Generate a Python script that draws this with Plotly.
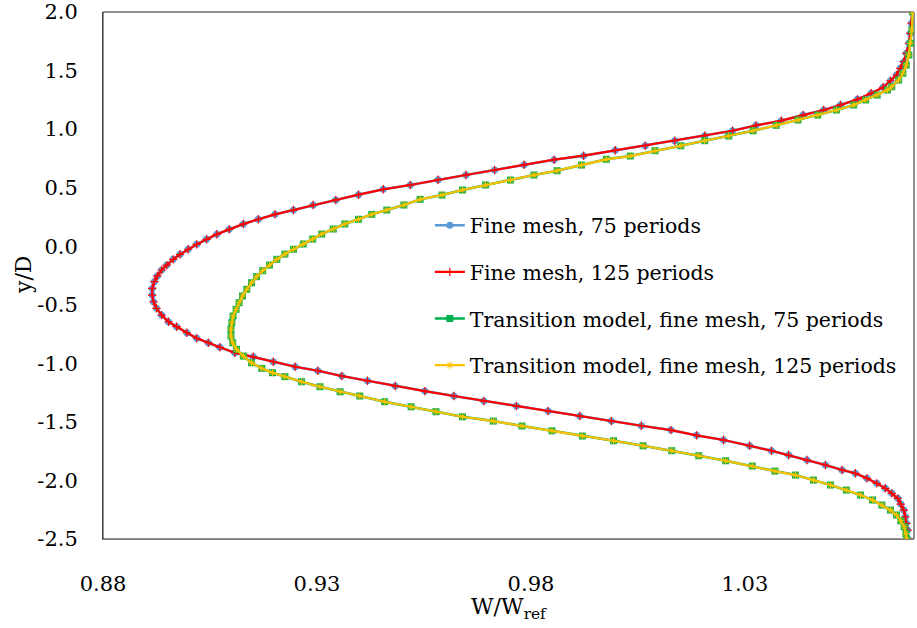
import plotly.graph_objects as go

# ---- data (y/D vs W/Wref) ----
y_fine = [-2.5, -2.424, -2.366, -2.310, -2.253, -2.202, -2.153, -2.110, -2.067, -2.025,
          -1.982, -1.939, -1.911, -1.868, -1.826, -1.783, -1.746, -1.704, -1.655, -1.615,
          -1.570, -1.533, -1.493, -1.450, -1.407, -1.365, -1.322, -1.279, -1.237, -1.194,
          -1.149, -1.108, -1.063, -1.029, -0.986, -0.944, -0.909, -0.863, -0.824, -0.786,
          -0.739, -0.687, -0.645, -0.588, -0.530, -0.474, -0.417, -0.360, -0.303, -0.254,
          -0.203, -0.161, -0.112, -0.069, -0.026, 0.016, 0.059, 0.102, 0.144, 0.190,
          0.230, 0.272, 0.309, 0.352, 0.395, 0.440, 0.486, 0.523, 0.568, 0.608,
          0.651, 0.696, 0.739, 0.773, 0.819, 0.858, 0.901, 0.944, 0.986, 1.032,
          1.072, 1.120, 1.163, 1.206, 1.254, 1.306, 1.357, 1.413, 1.462, 1.519,
          1.576, 1.647, 1.733, 1.818, 1.904, 2.0]
x_fine_75 = [1.0681, 1.0680, 1.0677, 1.0675, 1.0671, 1.0664, 1.0657, 1.0643, 1.0628, 1.0608,
             1.0585, 1.0558, 1.0527, 1.0488, 1.0445, 1.0402, 1.0362, 1.0311, 1.0250, 1.0187,
             1.0127, 1.0058, 0.9988, 0.9914, 0.9840, 0.9766, 0.9690, 0.9620, 0.9552, 0.9483,
             0.9418, 0.9358, 0.9302, 0.9249, 0.9198, 0.9151, 0.9108, 0.9073, 0.9046, 0.9019,
             0.8996, 0.8972, 0.8953, 0.8937, 0.8925, 0.8918, 0.8915, 0.8915, 0.8920, 0.8927,
             0.8937, 0.8949, 0.8964, 0.8980, 0.8999, 0.9019, 0.9042, 0.9066, 0.9095, 0.9128,
             0.9163, 0.9202, 0.9245, 0.9291, 0.9344, 0.9397, 0.9455, 0.9518, 0.9583, 0.9648,
             0.9715, 0.9784, 0.9854, 0.9923, 0.9997, 1.0067, 1.0136, 1.0206, 1.0271, 1.0326,
             1.0385, 1.0436, 1.0484, 1.0523, 1.0563, 1.0595, 1.0623, 1.0640, 1.0654, 1.0663,
             1.0671, 1.0677, 1.0683, 1.0686, 1.0689, 1.0691]
x_fine_125 = list(x_fine_75)  # indistinguishable from the 75-period curve

y_trans = [-2.5, -2.452, -2.395, -2.344, -2.295, -2.253, -2.210, -2.167, -2.125, -2.082,
           -2.039, -1.997, -1.954, -1.920, -1.877, -1.832, -1.789, -1.746, -1.704, -1.661,
           -1.621, -1.576, -1.535, -1.493, -1.456, -1.413, -1.371, -1.328, -1.279, -1.243,
           -1.200, -1.157, -1.114, -1.080, -1.043, -0.995, -0.938, -0.880, -0.824, -0.767,
           -0.710, -0.653, -0.596, -0.539, -0.482, -0.425, -0.368, -0.312, -0.260, -0.209,
           -0.161, -0.112, -0.067, -0.026, 0.019, 0.061, 0.104, 0.147, 0.190, 0.230,
           0.272, 0.309, 0.352, 0.400, 0.437, 0.480, 0.523, 0.565, 0.608, 0.645,
           0.693, 0.742, 0.770, 0.816, 0.858, 0.901, 0.941, 0.986, 1.032, 1.078,
           1.120, 1.163, 1.206, 1.249, 1.291, 1.334, 1.362, 1.419, 1.477, 1.547,
           1.633, 1.733, 1.846, 2.0]
x_trans_75 = [1.0678, 1.0676, 1.0672, 1.0664, 1.0654, 1.0640, 1.0620, 1.0598, 1.0570, 1.0537,
              1.0500, 1.0460, 1.0418, 1.0370, 1.0317, 1.0255, 1.0192, 1.0129, 1.0062, 0.9993,
              0.9920, 0.9849, 0.9779, 0.9712, 0.9640, 0.9578, 0.9520, 0.9458, 0.9400, 0.9354,
              0.9307, 0.9264, 0.9225, 0.9196, 0.9171, 0.9147, 0.9128, 0.9112, 0.9103, 0.9099,
              0.9099, 0.9101, 0.9104, 0.9111, 0.9118, 0.9126, 0.9136, 0.9147, 0.9159, 0.9173,
              0.9189, 0.9206, 0.9225, 0.9245, 0.9268, 0.9290, 0.9311, 0.9338, 0.9365, 0.9397,
              0.9428, 0.9463, 0.9503, 0.9541, 0.9592, 0.9640, 0.9694, 0.9752, 0.9807, 0.9861,
              0.9918, 0.9976, 1.0032, 1.0090, 1.0150, 1.0206, 1.0262, 1.0319, 1.0373, 1.0424,
              1.0470, 1.0514, 1.0554, 1.0582, 1.0609, 1.0633, 1.0643, 1.0659, 1.0669, 1.0677,
              1.0683, 1.0687, 1.0690, 1.0692]
x_trans_125 = list(x_trans_75)

series_names = ["Fine mesh, 75 periods", "Fine mesh, 125 periods",
                "Transition model, fine mesh, 75 periods",
                "Transition model, fine mesh, 125 periods"]
x_ticks = [0.88, 0.93, 0.98, 1.03]
y_ticks = [-2.5, -2.0, -1.5, -1.0, -0.5, 0.0, 0.5, 1.0, 1.5, 2.0]

FONT = "DejaVu Serif"

fig = go.Figure()
fig.add_trace(go.Scatter(
    x=x_fine_75, y=y_fine, name=series_names[0], mode="lines+markers", legendgroup="a",
    line=dict(color="#5B9BD5", width=2.5),
    marker=dict(symbol="circle", size=7, color="#5B9BD5")))
fig.add_trace(go.Scatter(
    x=x_fine_125, y=y_fine, name=series_names[1], mode="lines+markers", legendgroup="b",
    line=dict(color="#FF0000", width=2.2),
    marker=dict(symbol="cross-thin", size=6, color="#FF0000",
                line=dict(color="#FF0000", width=1.2))))
fig.add_trace(go.Scatter(
    x=x_trans_75, y=y_trans, name=series_names[2], mode="lines+markers", legendgroup="c",
    line=dict(color="#00B050", width=2.5),
    marker=dict(symbol="square", size=7, color="#00B050")))
fig.add_trace(go.Scatter(
    x=x_trans_125, y=y_trans, name=series_names[3], mode="lines+markers", legendgroup="d",
    line=dict(color="#FFC000", width=2.2),
    marker=dict(symbol="asterisk", size=6, color="#FFC000",
                line=dict(color="#FFC000", width=1.0))))

fig.update_layout(
    width=917, height=628,
    margin=dict(l=103, r=3, t=12, b=89, autoexpand=False),
    paper_bgcolor="white", plot_bgcolor="white",
    font=dict(family=FONT, size=22, color="black"),
    showlegend=True,
    legend=dict(x=0.403, y=0.633, xanchor="left", yanchor="top",
                bgcolor="rgba(0,0,0,0)", borderwidth=0,
                font=dict(family=FONT, size=20.5, color="black"),
                tracegroupgap=17, traceorder="grouped", itemwidth=30),
    xaxis=dict(range=[0.88, 1.0695], tickvals=x_ticks, ticktext=[f"{v:.2f}" for v in x_ticks],
               showgrid=False, zeroline=False, showline=True, linecolor="#808080", linewidth=1,
               mirror=False, ticks="outside", ticklen=26, tickcolor="rgba(0,0,0,0)",
               ticklabeloverflow="allow",
               tickfont=dict(family=FONT, size=21, color="black")),
    yaxis=dict(range=[-2.5, 2.0], tickvals=y_ticks, ticktext=[f"{v:.1f}" for v in y_ticks],
               showgrid=False, zeroline=False, showline=True, linecolor="#404040", linewidth=1,
               mirror=False, ticks="outside", ticklen=20, tickcolor="rgba(0,0,0,0)",
               ticklabeloverflow="allow",
               tickfont=dict(family=FONT, size=21, color="black")),
    shapes=[dict(type="rect", xref="paper", yref="paper", x0=0, x1=1, y0=0, y1=1,
                 line=dict(color="#262626", width=1), layer="below")],
    annotations=[
        dict(text="y/D", xref="paper", yref="paper", x=-0.098, y=0.5, textangle=-90,
             showarrow=False, xanchor="center", yanchor="middle",
             font=dict(family=FONT, size=22, color="black")),
        dict(text="W/W<sub>ref</sub>", xref="paper", yref="paper", x=0.5, y=-0.1,
             showarrow=False, xanchor="center", yanchor="top",
             font=dict(family=FONT, size=22, color="black")),
    ],
)

fig.write_html("out.html")
